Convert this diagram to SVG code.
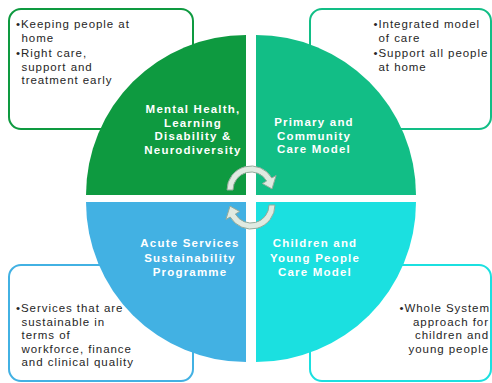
<svg xmlns="http://www.w3.org/2000/svg" width="492" height="383" viewBox="0 0 492 383">
<defs>
<style>
.box{fill:#fff;stroke-width:2}
.bt{font-family:"Liberation Sans",Arial,sans-serif;font-size:11.5px;letter-spacing:0.95px;fill:#262626}
.lb{font-family:"Liberation Sans",Arial,sans-serif;font-size:11.5px;font-weight:bold;letter-spacing:1.2px;fill:#fff;text-anchor:middle}
.arr{fill:#E0EAE1;stroke:#93AA9A;stroke-width:1}
</style>
</defs>
<rect width="492" height="383" fill="#fff"/>
<g id="box-tl"><rect class="box" x="9" y="9" width="184" height="120" rx="12" stroke="#0E9A40"/>
<text class="bt"><tspan x="16" y="28">•Keeping people at</tspan><tspan x="21.5" y="41.5">home</tspan><tspan x="16" y="57">•Right care,</tspan><tspan x="21.5" y="70.5">support and</tspan><tspan x="21.5" y="84">treatment early</tspan></text></g>
<g id="box-tr"><rect class="box" x="310" y="9" width="181" height="120" rx="12" stroke="#12BE86"/>
<text class="bt"><tspan x="373.5" y="28">•Integrated model</tspan><tspan x="378.5" y="41.5">of care</tspan><tspan x="373.5" y="57">•Support all people</tspan><tspan x="378.5" y="70.5">at home</tspan></text></g>
<g id="box-bl"><rect class="box" x="9" y="265" width="184" height="116" rx="12" stroke="#42B1E3"/>
<text class="bt"><tspan x="16" y="312">•Services that are</tspan><tspan x="21.5" y="325.5">sustainable in</tspan><tspan x="21.5" y="339">terms of</tspan><tspan x="21.5" y="352.5">workforce, finance</tspan><tspan x="21.5" y="366">and clinical quality</tspan></text></g>
<g id="box-br"><rect class="box" x="310" y="265" width="181" height="116" rx="12" stroke="#1BE0E0"/>
<text class="bt" text-anchor="end"><tspan x="490" y="312">•Whole System</tspan><tspan x="489" y="325.5">approach for</tspan><tspan x="489" y="339">children and</tspan><tspan x="489" y="352.5">young people</tspan></text></g>
<g id="q-mh"><path d="M246,195 L86,195 A160,160 0 0 1 246,35 Z" fill="#0E9A40"/>
<text class="lb"><tspan x="193" y="113">Mental Health,</tspan><tspan x="193" y="126.5">Learning</tspan><tspan x="193" y="140">Disability &amp;</tspan><tspan x="193" y="154">Neurodiversity</tspan></text></g>
<g id="q-pc"><path d="M256,195 L256,35 A160,160 0 0 1 416,195 Z" fill="#12BE86"/>
<text class="lb"><tspan x="314" y="126">Primary and</tspan><tspan x="314" y="139.5">Community</tspan><tspan x="314" y="153">Care Model</tspan></text></g>
<g id="q-as"><path d="M246,202 L246,362 A160,160 0 0 1 86,202 Z" fill="#42B1E3"/>
<text class="lb"><tspan x="190" y="247">Acute Services</tspan><tspan x="190" y="261.5">Sustainability</tspan><tspan x="190" y="276">Programme</tspan></text></g>
<g id="q-cy"><path d="M256,202 L416,202 A160,160 0 0 1 256,362 Z" fill="#1BE0E0"/>
<text class="lb"><tspan x="315" y="247">Children and</tspan><tspan x="315" y="261.5">Young People</tspan><tspan x="315" y="276">Care Model</tspan></text></g>
<g id="connectors">
<path class="arr" d="M227,190 A24,24 0 0 1 271.8,178 L276.1,175.5 L272,188.9 L262.3,183.5 L266.6,181 A18,18 0 0 0 233,190 Z"/>
<path class="arr" transform="rotate(180 251 197.5)" d="M227,190 A24,24 0 0 1 271.8,178 L276.1,175.5 L272,188.9 L262.3,183.5 L266.6,181 A18,18 0 0 0 233,190 Z"/>
</g>
</svg>
